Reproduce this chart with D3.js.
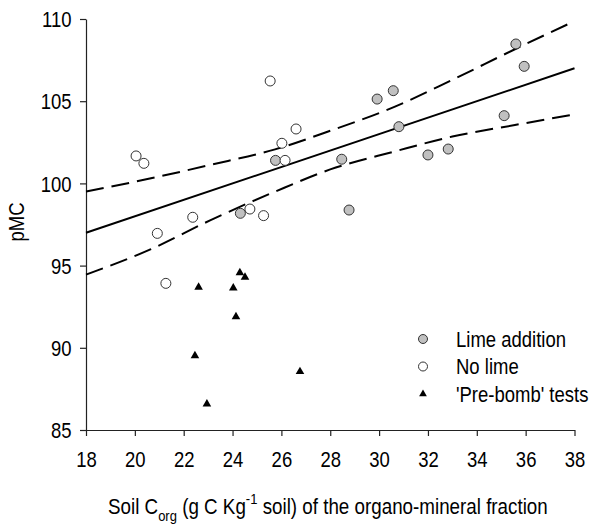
<!DOCTYPE html>
<html>
<head>
<meta charset="utf-8">
<script src="https://cdn.jsdelivr.net/npm/d3@7"></script>
<style>
  body { margin: 0; background: #fff; }
  svg text { font-family: "Liberation Sans", Arial, sans-serif; fill: #000; }
</style>
</head>
<body>
<div id="chart"></div>
<script>
// lime addition plots
const limeX = [24.32, 25.76, 28.47, 28.77, 29.92, 30.58, 30.81, 32.0, 32.83, 35.12, 35.6, 35.94];
const limeY = [98.18, 101.4, 101.47, 98.38, 105.13, 105.64, 103.45, 101.73, 102.09, 104.12, 108.48, 107.12];
// no lime plots
const noLimeX = [20.05, 20.37, 20.92, 21.27, 22.37, 24.71, 25.27, 25.54, 26.02, 26.15, 26.6];
const noLimeY = [101.67, 101.22, 96.96, 93.92, 97.94, 98.44, 98.04, 106.23, 102.44, 101.4, 103.31];
// 'pre-bomb' tests
const preX = [22.46, 22.61, 22.95, 24.03, 24.14, 24.3, 24.51, 26.76];
const preY = [89.52, 93.68, 86.58, 93.64, 91.89, 94.57, 94.29, 88.55];
// regression line + confidence band
const regX = [18, 38];
const regY = [97.0, 107.0];
const bandX = [18, 20.66, 23.08, 25.74, 28.0, 30.65, 33.0, 35.56, 38];
const upperY = [99.5, 100.31, 101.12, 102.07, 103.2, 104.67, 106.3, 108.16, 109.87];
const lowerY = [94.45, 96.0, 97.75, 99.5, 100.85, 101.95, 102.85, 103.55, 104.2];

const xTicks = [18, 20, 22, 24, 26, 28, 30, 32, 34, 36, 38];
const yTicks = [85, 90, 95, 100, 105, 110];
const legendLabels = ["Lime addition", "No lime", "'Pre-bomb' tests"];

const margin = {top: 19, right: 18.5, bottom: 95, left: 86};
const W = 593, H = 525;
const width = W - margin.left - margin.right;
const height = H - margin.top - margin.bottom;
const stretch = "scale(1,1.15)";   // the original lettering is tall and narrow

const svg = d3.select("#chart").append("svg")
    .attr("width", W)
    .attr("height", H);
const g = svg.append("g")
    .attr("transform", "translate(" + margin.left + "," + margin.top + ")");

const xScale = d3.scaleLinear().domain([18, 38]).range([0, width]);
const yScale = d3.scaleLinear().domain([85, 110]).range([height, 0]);

// axes
const xAxis = g.append("g")
    .attr("transform", "translate(0," + height + ")")
    .call(d3.axisBottom(xScale).tickValues(xTicks).tickSize(6).tickSizeOuter(0));
const yAxis = g.append("g")
    .call(d3.axisLeft(yScale).tickValues(yTicks).tickSize(6).tickSizeOuter(0));
[xAxis, yAxis].forEach(ax => {
    ax.select(".domain").attr("stroke", "#222").attr("stroke-width", 1.2);
    ax.selectAll(".tick line").attr("stroke", "#222").attr("stroke-width", 1.2);
    ax.selectAll(".tick text")
        .style("font-family", "'Liberation Sans', Arial, sans-serif")
        .style("font-size", "18.5px")
        .attr("fill", "#000");
});
xAxis.selectAll(".tick text")
    .attr("y", 0).attr("dy", 0)
    .attr("transform", "translate(0,37) " + stretch);
yAxis.selectAll(".tick text")
    .attr("x", 0).attr("dy", "0.36em")
    .attr("transform", "translate(-14.5,0) " + stretch);

// lines
const line = d3.line().x(d => xScale(d[0])).y(d => yScale(d[1]));
const curve = d3.line().x(d => xScale(d[0])).y(d => yScale(d[1])).curve(d3.curveMonotoneX);

g.append("path")
    .datum(regX.map((x, i) => [x, regY[i]]))
    .attr("d", line)
    .attr("fill", "none")
    .attr("stroke", "#000")
    .attr("stroke-width", 2);

[upperY, lowerY].forEach(ys => {
    g.append("path")
        .datum(bandX.map((x, i) => [x, ys[i]]))
        .attr("d", curve)
        .attr("fill", "none")
        .attr("stroke", "#000")
        .attr("stroke-width", 2)
        .attr("stroke-dasharray", "18,8");
});

// markers
const triangle = d3.symbol().type(d3.symbolTriangle).size(32);

g.selectAll(".lime")
    .data(limeX.map((x, i) => [x, limeY[i]]))
    .join("circle")
    .attr("class", "lime")
    .attr("cx", d => xScale(d[0]))
    .attr("cy", d => yScale(d[1]))
    .attr("r", 5)
    .attr("fill", "#c0c0c0")
    .attr("stroke", "#333")
    .attr("stroke-width", 1);

g.selectAll(".nolime")
    .data(noLimeX.map((x, i) => [x, noLimeY[i]]))
    .join("circle")
    .attr("class", "nolime")
    .attr("cx", d => xScale(d[0]))
    .attr("cy", d => yScale(d[1]))
    .attr("r", 5)
    .attr("fill", "#fff")
    .attr("stroke", "#333")
    .attr("stroke-width", 1);

g.selectAll(".prebomb")
    .data(preX.map((x, i) => [x, preY[i]]))
    .join("path")
    .attr("class", "prebomb")
    .attr("d", triangle)
    .attr("transform", d => "translate(" + xScale(d[0]) + "," + yScale(d[1]) + ")")
    .attr("fill", "#000");

// legend
const legend = svg.append("g").attr("transform", "translate(423,339)");
legendLabels.forEach((label, i) => {
    const row = legend.append("g").attr("transform", "translate(0," + (i * 27.5) + ")");
    if (i < 2) {
        row.append("circle")
            .attr("r", 4.5)
            .attr("fill", i === 0 ? "#c0c0c0" : "#fff")
            .attr("stroke", "#333");
    } else {
        row.append("path").attr("d", d3.symbol().type(d3.symbolTriangle).size(26)).attr("fill", "#000");
    }
    row.append("text")
        .attr("dy", "0.36em")
        .attr("transform", "translate(33,0) " + stretch)
        .style("font-size", "18.5px")
        .text(label);
});

// axis titles
svg.append("text")
    .attr("transform", "translate(24,222) rotate(-90) " + stretch)
    .attr("text-anchor", "middle")
    .style("font-size", "18.5px")
    .text("pMC");

const xt = svg.append("text")
    .attr("transform", "translate(108,514) " + stretch)
    .style("font-size", "18.8px");
xt.append("tspan").text("Soil C");
xt.append("tspan").attr("dy", 6).style("font-size", "13px").text("org");
xt.append("tspan").attr("dy", -6).text(" (g C Kg");
xt.append("tspan").attr("dy", -8.5).style("font-size", "13px").text("-1");
xt.append("tspan").attr("dy", 8.5).text(" soil) of the organo-mineral fraction");
</script>
</body>
</html>
